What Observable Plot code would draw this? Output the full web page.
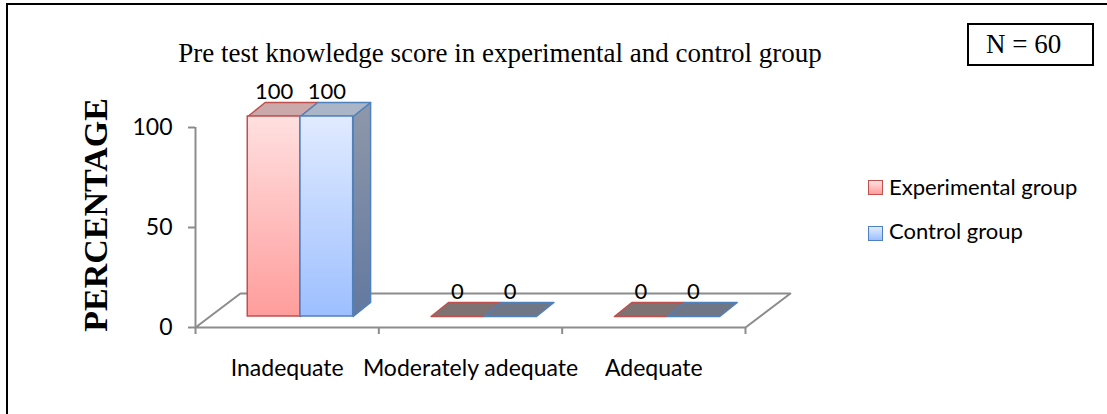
<!DOCTYPE html>
<html>
<head>
<meta charset="utf-8">
<script src="https://cdn.jsdelivr.net/npm/d3@7"></script>
<script src="https://cdn.jsdelivr.net/npm/@observablehq/plot@0.6"></script>
<style>
  html, body { margin: 0; padding: 0; background: #fff; overflow: hidden; }
  #wrap { position: relative; width: 1107px; height: 414px; overflow: hidden; background: #fff; }
  #chart { position: absolute; left: 0; top: 0; }
  #border { position: absolute; left: 6px; top: 3px; width: 1140px; height: 460px; border: 2px solid #000; box-sizing: border-box; pointer-events: none; }
  .serif { font-family: "Liberation Serif", "Times New Roman", serif; color: #000; }
  #title { position: absolute; left: 0; top: 40px; width: 1000px; text-align: center; font-size: 27px; line-height: 27px; white-space: nowrap; }
  #ytitle { position: absolute; left: -54px; top: 198px; width: 300px; text-align: center; font-size: 34px; line-height: 34px; font-weight: bold; transform: rotate(-90deg); white-space: nowrap; }
  #nbox { position: absolute; left: 967px; top: 23px; width: 127px; height: 43px; box-sizing: border-box; border: 2px solid #000; font-size: 27px; line-height: 27px; padding: 6px 0 0 17px; white-space: nowrap; }
  .leg { position: absolute; font-family: Lato, sans-serif; font-size: 22px; line-height: 22px; color: #000; white-space: nowrap; }
  .sw { position: absolute; width: 15px; height: 15px; box-sizing: border-box; border: 1.5px solid; }
</style>
</head>
<body>
<div id="wrap">
  <div id="chart"></div>
  <div id="title" class="serif"></div>
  <div id="ytitle" class="serif"></div>
  <div id="nbox" class="serif"></div>
  <div id="legend"></div>
  <div id="border"></div>
</div>
<script>
// ---------- data ----------
const titleText = "Pre test knowledge score in experimental and control group";
const yTitle = "PERCENTAGE";
const nLabel = "N = 60";
const categories = ["Inadequate", "Moderately adequate", "Adequate"];
const seriesNames = ["Experimental group", "Control group"];
const experimental = [100, 0, 0];
const control = [100, 0, 0];
const yTicks = [0, 50, 100];

// ---------- styles ----------
const seriesStroke = ["#c0504d", "#4f81bd"];
const frontFill = ["url(#gRedFront)", "url(#gBlueFront)"];
const topFillFull = ["#cba8a9", "#aab5c7"];
const topFillFlat = ["#7f7273", "#6f7787"];
const axisGray = "#8c8c8c";

// 3D geometry (in scale units)
const BW = 0.2875, GOFF = -0.215, FY = 5.5, DX = 0.095, DY = 7, FDX = 0.245, FDY = 17;

const seriesValues = [experimental, control];
const rows = [];
categories.forEach((c, i) => {
  seriesValues.forEach((vals, k) => {
    rows.push({cat: c, i, k, series: seriesNames[k], value: vals[i]});
  });
});
const bx1 = d => d.i + GOFF + d.k * BW;
const bx2 = d => bx1(d) + BW;

const tops = [], sides = [], shadows = [];
rows.forEach((d, n) => {
  const a = bx1(d), b = bx2(d), t = FY + d.value;
  tops.push(...[[a, t], [b, t], [b + DX, t + DY], [a + DX, t + DY]].map(([x, y]) => ({x, y, id: n, k: d.k, flat: d.value === 0})));
  if (d.value > 0) {
    sides.push(...[[b, FY], [b, t], [b + DX, t + DY], [b + DX, FY + DY]].map(([x, y]) => ({x, y, id: n, k: d.k})));
  }
});
categories.forEach((c, i) => {
  const a = i + GOFF - 0.03, b = i + GOFF + 2 * BW + 0.03;
  shadows.push(...[[a, FY - 3], [b + DX, FY - 3], [b + DX + 0.02, FY + DY], [a + DX, FY + DY]].map(([x, y]) => ({x, y, id: i})));
});
const floor = [[-0.5, 0], [2.5, 0], [2.5 + FDX, FDY], [-0.5 + FDX, FDY]].map(([x, y]) => ({x, y}));

const marks = [
  Plot.line(floor, {x: "x", y: "y", curve: "linear-closed", stroke: axisGray, strokeWidth: 2, fill: "none"}),
  Plot.ruleX([-0.5], {y1: 0, y2: 100, stroke: axisGray, strokeWidth: 2}),
  Plot.axisY({ticks: yTicks, tickSize: 7, tickFormat: () => "", color: axisGray, strokeWidth: 2, label: null}),
  Plot.axisY({ticks: yTicks, tickSize: 0, tickPadding: 23, fontSize: 23, color: "#000", label: null}),
  Plot.axisX({ticks: [-0.5, 0.5, 1.5, 2.5], tickSize: 7, tickFormat: () => "", color: axisGray, strokeWidth: 2, label: null}),
  Plot.axisX({ticks: categories.map((c, i) => i), tickSize: 0, tickPadding: 32, tickFormat: i => categories[i], fontSize: 23, color: "#000", label: null}),
  Plot.line(shadows, {x: "x", y: "y", z: "id", curve: "linear-closed", fill: "#3a3a3a", fillOpacity: 0.45, stroke: "none", ariaLabel: "shadow"})
];
seriesNames.forEach((s, k) => {
  marks.push(Plot.line(sides, {filter: p => p.k === k, x: "x", y: "y", z: "id", curve: "linear-closed", fill: "url(#gSide)", stroke: seriesStroke[k], strokeWidth: 1.5}));
});
seriesNames.forEach((s, k) => {
  marks.push(Plot.line(tops, {filter: p => p.k === k && !p.flat, x: "x", y: "y", z: "id", curve: "linear-closed", fill: topFillFull[k], stroke: seriesStroke[k], strokeWidth: 1.5}));
  marks.push(Plot.line(tops, {filter: p => p.k === k && p.flat, x: "x", y: "y", z: "id", curve: "linear-closed", fill: topFillFlat[k], stroke: seriesStroke[k], strokeWidth: 1.5}));
});
seriesNames.forEach((s, k) => {
  marks.push(Plot.rect(rows.filter(d => d.k === k && d.value > 0), {x1: bx1, x2: bx2, y1: FY, y2: d => FY + d.value, fill: frontFill[k], stroke: seriesStroke[k], strokeWidth: 1.5}));
});
marks.push(Plot.text(rows, {x: d => bx1(d) + BW / 2, y: "value", text: d => String(d.value), dy: -36, fontSize: 22, fill: "#000"}));

const svg = Plot.plot({
  width: 1107, height: 414,
  marginLeft: 195, marginRight: 362, marginTop: 127, marginBottom: 87,
  x: {domain: [-0.5, 2.5]},
  y: {domain: [0, 100]},
  style: {fontFamily: "Lato, sans-serif", background: "transparent", color: "#000", overflow: "visible"},
  marks
});

d3.select(svg).insert("defs", ":first-child").html(`
  <linearGradient id="gRedFront" x1="0" y1="0" x2="0" y2="1">
    <stop offset="0" stop-color="#ffe0e0"/><stop offset="1" stop-color="#ff9d9c"/>
  </linearGradient>
  <linearGradient id="gBlueFront" x1="0" y1="0" x2="0" y2="1">
    <stop offset="0" stop-color="#e1ebff"/><stop offset="1" stop-color="#9dbfff"/>
  </linearGradient>
  <linearGradient id="gSide" x1="0" y1="0" x2="0" y2="1">
    <stop offset="0" stop-color="#8f98aa"/><stop offset="1" stop-color="#62789f"/>
  </linearGradient>
  <filter id="blur" x="-20%" y="-50%" width="140%" height="200%"><feGaussianBlur stdDeviation="3"/></filter>
`);
d3.select(svg).selectAll('[aria-label="shadow"]').attr("filter", "url(#blur)");
document.getElementById("chart").appendChild(svg);

// annotations
document.getElementById("title").textContent = titleText;
document.getElementById("ytitle").textContent = yTitle;
document.getElementById("nbox").textContent = nLabel;
const legend = document.getElementById("legend");
const swFill = ["linear-gradient(#ffe0e0,#ff9d9c)", "linear-gradient(#e1ebff,#9dbfff)"];
seriesNames.forEach((s, k) => {
  const sw = document.createElement("div");
  sw.className = "sw";
  sw.style.left = "868px";
  sw.style.top = (180 + k * 46) + "px";
  sw.style.borderColor = seriesStroke[k];
  sw.style.background = swFill[k];
  legend.appendChild(sw);
  const t = document.createElement("div");
  t.className = "leg";
  t.style.left = "889px";
  t.style.top = (175.5 + k * 44) + "px";
  t.textContent = s;
  legend.appendChild(t);
});
</script>
</body>
</html>
